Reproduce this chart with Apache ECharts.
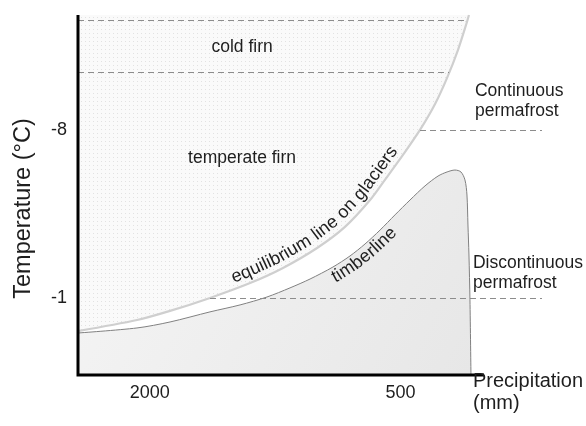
<!DOCTYPE html>
<html><head><meta charset="utf-8">
<script src="https://cdn.jsdelivr.net/npm/echarts@6/dist/echarts.min.js"></script>
<style>html,body{margin:0;padding:0;background:#fff}#c{width:586px;height:426px}</style>
</head><body><div id="c"></div>
<script>
// ---- axis ranges & ticks ----
const X_MIN = 0, X_MAX = 2430;          // precipitation (mm), drawn reversed
const Y_MIN = -12.8, Y_MAX = 2.2;       // temperature (°C), drawn reversed
const xTickValues = [2000, 500];
const yTickValues = [-8, -1];

// ---- equilibrium line on glaciers ----
const eqPrecip = [2430, 2077, 1879, 1640, 1400, 1203, 999, 832, 682, 593, 485, 383, 293, 221, 156, 102, 90];
const eqTemp   = [0.37, -0.09, -0.47, -1.01, -1.63, -2.26, -3.09, -3.97, -5.09, -5.93, -6.97, -8.01, -9.09, -10.18, -11.34, -12.51, -12.8];

// ---- timberline ----
const tlPrecip = [2430, 2077, 1879, 1640, 1460, 1299, 1161, 1041, 904, 802, 712, 622, 533, 443, 353, 275, 221, 174, 138, 114, 102, 96, 90, 84, 78];
const tlTemp   = [0.45, 0.24, -0.01, -0.43, -0.72, -1.05, -1.43, -1.80, -2.30, -2.76, -3.26, -3.84, -4.47, -5.09, -5.68, -6.09, -6.26, -6.34, -6.26, -5.93, -5.30, -4.05, -2.80, -0.93, 2.2];

// ---- dashed boundary lines ----
const dashTemps = [-12.59, -10.42, -8, -1];
const dashFrom  = [2430, 2430, 383, 1640];
const dashTo    = [100, 209, -347, -347];

// ---- annotations ----
const noteTexts  = ['cold firn', 'temperate firn', 'Continuous\npermafrost', 'Discontinuous\npermafrost'];
const notePrecip = [1448, 1448, 54, 66];
const noteTemp   = [-11.47, -6.84, -9.2, -2.06];
const noteAlign  = ['center', 'center', 'left', 'left'];

const FONT = '"Liberation Sans", Arial, Helvetica, sans-serif';
const TXT = '#1e1e1e';

const chart = echarts.init(document.getElementById('c'), null, {renderer: 'canvas'});

// dotted pattern
const pc = document.createElement('canvas');
pc.width = 4; pc.height = 4;
const pg = pc.getContext('2d');
pg.fillStyle = '#fafafa'; pg.fillRect(0, 0, 4, 4);
pg.fillStyle = '#e2e2e2'; pg.fillRect(1, 1, 1, 1);

const pair = (xs, ys) => xs.map((x, i) => [x, ys[i]]);

const series = [
  {
    type: 'line', name: 'equilibrium line on glaciers',
    data: pair(eqPrecip, eqTemp), smooth: 0.3, showSymbol: false, silent: true,
    lineStyle: {color: '#cfcfcf', width: 2.2},
    areaStyle: {origin: 'start', color: {image: pc, repeat: 'repeat'}, opacity: 1},
    z: 2
  },
  {
    type: 'line', name: 'timberline',
    data: pair(tlPrecip, tlTemp), smooth: 0.3, showSymbol: false, silent: true,
    lineStyle: {color: '#808080', width: 1},
    areaStyle: {origin: 'end', opacity: 1, color: {
      type: 'linear', x: 0, y: 0, x2: 1, y2: 1,
      colorStops: [{offset: 0, color: '#f5f5f5'}, {offset: 1, color: '#e7e7e7'}]
    }},
    z: 3
  }
];

chart.setOption({
  animation: false,
  grid: {left: 78, right: 102, top: 15, bottom: 51, containLabel: false, outerBoundsMode: 'none'},
  xAxis: {
    type: 'value', min: X_MIN, max: X_MAX, inverse: true,
    axisLine: {show: false, onZero: false},
    axisTick: {show: false}, splitLine: {show: false},
    axisLabel: {customValues: xTickValues, formatter: v => String(v), fontSize: 18, color: TXT, margin: 9, fontFamily: FONT}
  },
  yAxis: {
    type: 'value', min: Y_MIN, max: Y_MAX, inverse: true,
    axisLine: {show: false, onZero: false},
    axisTick: {show: false}, splitLine: {show: false},
    axisLabel: {customValues: yTickValues, formatter: v => String(v), fontSize: 18, color: TXT, margin: 11, fontFamily: FONT}
  },
  series: series
});

// ---- graphics positioned through the chart's scales ----
const toPx = (x, y) => chart.convertToPixel({gridIndex: 0}, [x, y]);
const graphics = [];

// axis lines
const pTL = toPx(X_MAX, Y_MIN), pBL = toPx(X_MAX, Y_MAX), pBR = toPx(X_MIN, Y_MAX);
graphics.push({
  type: 'polyline', silent: true, z: 60,
  shape: {points: [[pTL[0], pTL[1]], [pBL[0], pBL[1]], [pBR[0], pBR[1]]]},
  style: {stroke: '#000', lineWidth: 3, fill: null, lineJoin: 'miter', lineCap: 'butt'}
});

// dashed boundary lines (extend beyond the plot on the right)
dashTemps.forEach((t, i) => {
  const a = toPx(dashFrom[i], t), b = toPx(dashTo[i], t);
  graphics.push({
    type: 'line', silent: true, z: 50,
    shape: {x1: a[0], y1: Math.round(a[1]) + 0.5, x2: b[0], y2: Math.round(b[1]) + 0.5},
    style: {stroke: '#8c8c8c', lineWidth: 1, lineDash: [6, 4]}
  });
});

noteTexts.forEach((t, i) => {
  const p = toPx(notePrecip[i], noteTemp[i]);
  graphics.push({
    type: 'text', x: p[0], y: p[1], silent: true, z: 100,
    style: {text: t, font: '17.5px ' + FONT, fill: TXT, align: noteAlign[i], verticalAlign: 'middle', lineHeight: 20}
  });
});

// axis titles
graphics.push({
  type: 'text', x: pBR[0] - 11, y: pBR[1] + 17, silent: true, z: 100,
  style: {text: 'Precipitation\n(mm)', font: '20px ' + FONT, fill: TXT, align: 'left', verticalAlign: 'middle', lineHeight: 22}
});
const yMid = toPx(X_MAX, -4.8);
graphics.push({
  type: 'text', x: yMid[0] - 54, y: yMid[1] + 1.5, rotation: Math.PI / 2, silent: true, z: 100,
  style: {text: 'Temperature (°C)', font: '23.5px ' + FONT, fill: TXT, align: 'center', verticalAlign: 'middle'}
});

// text following a curve (laid out on a parallel offset curve)
const mctx = document.createElement('canvas').getContext('2d');
function textAlongCurve(text, xs, ys, startPx, offset, fontSize, side) {
  const pts = xs.map((x, i) => toPx(x, ys[i]));
  const m = pts.length;
  const op = pts.map((p, i) => {
    const a = pts[Math.max(0, i - 1)], b = pts[Math.min(m - 1, i + 1)];
    const L = Math.hypot(b[0] - a[0], b[1] - a[1]) || 1;
    const tx = (b[0] - a[0]) / L, ty = (b[1] - a[1]) / L;
    return [p[0] + ty * offset * side, p[1] - tx * offset * side];
  });
  const cum = [0];
  for (let i = 1; i < m; i++) {
    cum.push(cum[i - 1] + Math.hypot(op[i][0] - op[i - 1][0], op[i][1] - op[i - 1][1]));
  }
  function at(s) {
    let i = 1;
    while (i < m - 1 && cum[i] < s) i++;
    const a = op[i - 1], b = op[i];
    const L = cum[i] - cum[i - 1] || 1;
    const f = (s - cum[i - 1]) / L;
    return {p: [a[0] + (b[0] - a[0]) * f, a[1] + (b[1] - a[1]) * f], t: [(b[0] - a[0]) / L, (b[1] - a[1]) / L]};
  }
  let s0 = 0;
  for (let i = 1; i < m; i++) {
    if (pts[i][0] >= startPx) {
      const f = (startPx - pts[i - 1][0]) / (pts[i][0] - pts[i - 1][0]);
      s0 = cum[i - 1] + f * (cum[i] - cum[i - 1]);
      break;
    }
  }
  mctx.font = fontSize + 'px ' + FONT;
  let s = s0;
  for (const ch of text) {
    const w = mctx.measureText(ch).width;
    const r = at(s + w / 2);
    graphics.push({
      type: 'text', silent: true, z: 100,
      x: r.p[0], y: r.p[1],
      rotation: Math.atan2(-r.t[1], r.t[0]),
      style: {text: ch, font: fontSize + 'px ' + FONT, fill: TXT, align: 'center', verticalAlign: 'middle'}
    });
    s += w;
  }
}
textAlongCurve('equilibrium line on glaciers', eqPrecip, eqTemp, 236, 11, 18, 1);
textAlongCurve('timberline', tlPrecip, tlTemp, 328, 10, 18, -1);

chart.setOption({graphic: graphics});
</script>
</body></html>
